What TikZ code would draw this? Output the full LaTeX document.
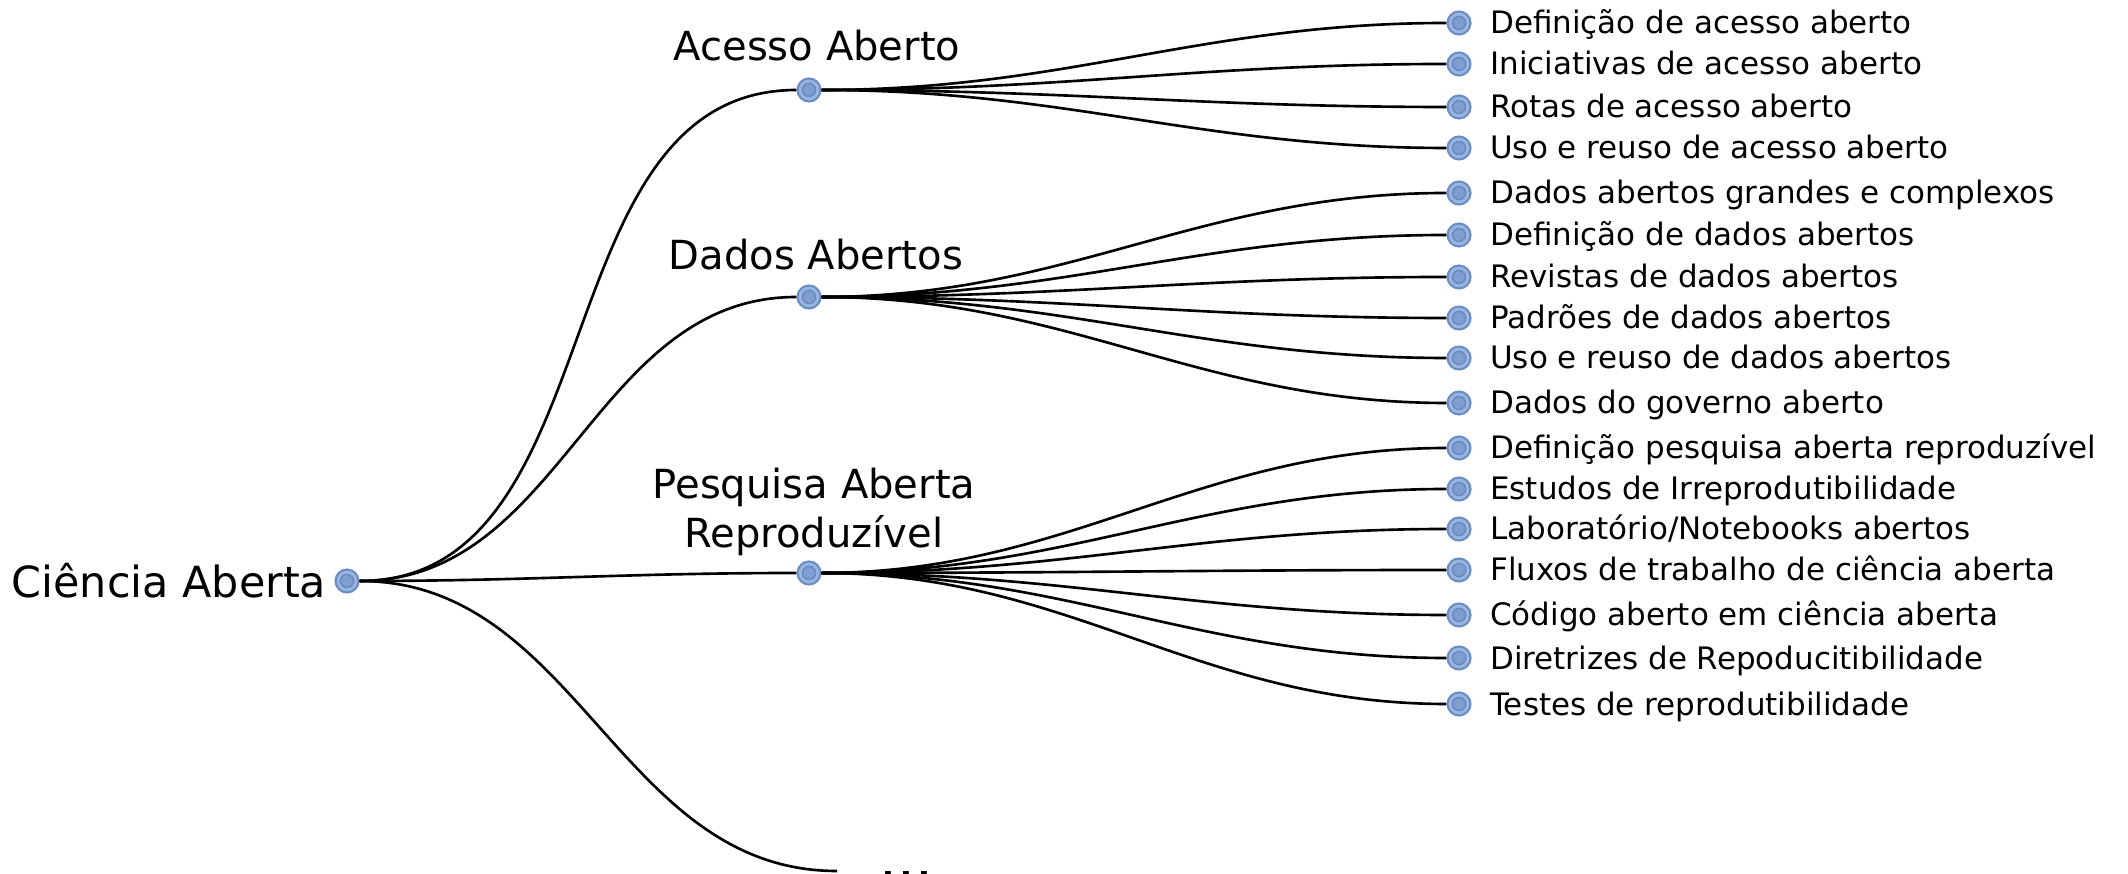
\documentclass[tikz,border=0pt]{standalone}
\usepackage{fontspec}
\setmainfont{DejaVu Sans}
\usetikzlibrary{positioning}

\definecolor{dotfill}{HTML}{9AB6E0}
\definecolor{dotline}{HTML}{6C8DC4}
\definecolor{dotcore}{HTML}{7E9DD0}

\tikzset{
  dot/.style={circle, draw=dotline, fill=dotfill, line width=0.6pt,
    minimum size=0.23cm, inner sep=0pt,
    path picture={\filldraw[draw=dotline, fill=dotcore, line width=0.5pt]
      (path picture bounding box.center) circle (0.065cm);}},
  rootlabel/.style={inner sep=0pt, font=\fontsize{12.2}{14}\selectfont},
  branchlabel/.style={inner sep=0pt, align=center,
    font=\fontsize{11.4}{14.2}\selectfont},
  leaflabel/.style={inner sep=0pt, font=\fontsize{8.8}{10.5}\selectfont},
  link/.style={line width=0.75pt, out=0, in=180}
}

\begin{document}
\begin{tikzpicture}[x=0.01cm, y=-0.01cm]
\useasboundingbox (0,0) rectangle (2128,874);
\clip (0,0) rectangle (2128,874);

% root
\node[dot] (root) at (347,581) {};
\node[rootlabel, base left=0.075cm of root, yshift=-0.16cm] (rootl) {Ciência Aberta};

% branches
\node[dot] (acc) at (809,90) {};
\node[branchlabel, anchor=south, xshift=0.08cm, yshift=0.28cm] (accl) at (acc) {Acesso Aberto};

\node[dot] (dad) at (809,297) {};
\node[branchlabel, anchor=south, xshift=0.07cm, yshift=0.26cm] (dadl) at (dad) {Dados Abertos};

\node[dot] (pes) at (809,573) {};
\node[branchlabel, anchor=south, xshift=0.05cm, yshift=0.16cm] (pesl) at (pes) {Pesquisa Aberta\\Reproduzível};

\coordinate (more) at (837,871);
\node[anchor=base west, inner sep=0pt, font=\fontsize{16}{18}\selectfont] (morel) at (879,879) {...};

% acesso aberto leaves
\node[dot] (acc1) at (1459,23) {};
\node[leaflabel, base right=0.18cm of acc1, yshift=-0.11cm] (acc1l) {Definição de acesso aberto};
\node[dot] (acc2) at (1459,64) {};
\node[leaflabel, base right=0.18cm of acc2, yshift=-0.11cm] (acc2l) {Iniciativas de acesso aberto};
\node[dot] (acc3) at (1459,107) {};
\node[leaflabel, base right=0.18cm of acc3, yshift=-0.11cm] (acc3l) {Rotas de acesso aberto};
\node[dot] (acc4) at (1459,148) {};
\node[leaflabel, base right=0.18cm of acc4, yshift=-0.11cm] (acc4l) {Uso e reuso de acesso aberto};

% dados abertos leaves
\node[dot] (dad1) at (1459,193) {};
\node[leaflabel, base right=0.18cm of dad1, yshift=-0.11cm] (dad1l) {Dados abertos grandes e complexos};
\node[dot] (dad2) at (1459,235) {};
\node[leaflabel, base right=0.18cm of dad2, yshift=-0.11cm] (dad2l) {Definição de dados abertos};
\node[dot] (dad3) at (1459,277) {};
\node[leaflabel, base right=0.18cm of dad3, yshift=-0.11cm] (dad3l) {Revistas de dados abertos};
\node[dot] (dad4) at (1459,318) {};
\node[leaflabel, base right=0.18cm of dad4, yshift=-0.11cm] (dad4l) {Padrões de dados abertos};
\node[dot] (dad5) at (1459,358) {};
\node[leaflabel, base right=0.18cm of dad5, yshift=-0.11cm] (dad5l) {Uso e reuso de dados abertos};
\node[dot] (dad6) at (1459,403) {};
\node[leaflabel, base right=0.18cm of dad6, yshift=-0.11cm] (dad6l) {Dados do governo aberto};

% pesquisa aberta leaves
\node[dot] (pes1) at (1459,448) {};
\node[leaflabel, base right=0.18cm of pes1, yshift=-0.11cm] (pes1l) {Definição pesquisa aberta reproduzível};
\node[dot] (pes2) at (1459,489) {};
\node[leaflabel, base right=0.18cm of pes2, yshift=-0.11cm] (pes2l) {Estudos de Irreprodutibilidade};
\node[dot] (pes3) at (1459,529) {};
\node[leaflabel, base right=0.18cm of pes3, yshift=-0.11cm] (pes3l) {Laboratório/Notebooks abertos};
\node[dot] (pes4) at (1459,570) {};
\node[leaflabel, base right=0.18cm of pes4, yshift=-0.11cm] (pes4l) {Fluxos de trabalho de ciência aberta};
\node[dot] (pes5) at (1459,615) {};
\node[leaflabel, base right=0.18cm of pes5, yshift=-0.11cm] (pes5l) {Código aberto em ciência aberta};
\node[dot] (pes6) at (1459,658) {};
\node[leaflabel, base right=0.18cm of pes6, yshift=-0.11cm] (pes6l) {Diretrizes de Repoducitibilidade};
\node[dot] (pes7) at (1459,704) {};
\node[leaflabel, base right=0.18cm of pes7, yshift=-0.11cm] (pes7l) {Testes de reprodutibilidade};

% links from the root
\draw[link] (root) to (acc);
\draw[link] (root) to (dad);
\draw[link] (root) to (pes);
\draw[link] (root) to (more);

% links to the leaves
\draw[link] (acc) to (acc1);
\draw[link] (acc) to (acc2);
\draw[link] (acc) to (acc3);
\draw[link] (acc) to (acc4);

\draw[link] (dad) to (dad1);
\draw[link] (dad) to (dad2);
\draw[link] (dad) to (dad3);
\draw[link] (dad) to (dad4);
\draw[link] (dad) to (dad5);
\draw[link] (dad) to (dad6);

\draw[link] (pes) to (pes1);
\draw[link] (pes) to (pes2);
\draw[link] (pes) to (pes3);
\draw[link] (pes) to (pes4);
\draw[link] (pes) to (pes5);
\draw[link] (pes) to (pes6);
\draw[link] (pes) to (pes7);

\end{tikzpicture}
\end{document}
